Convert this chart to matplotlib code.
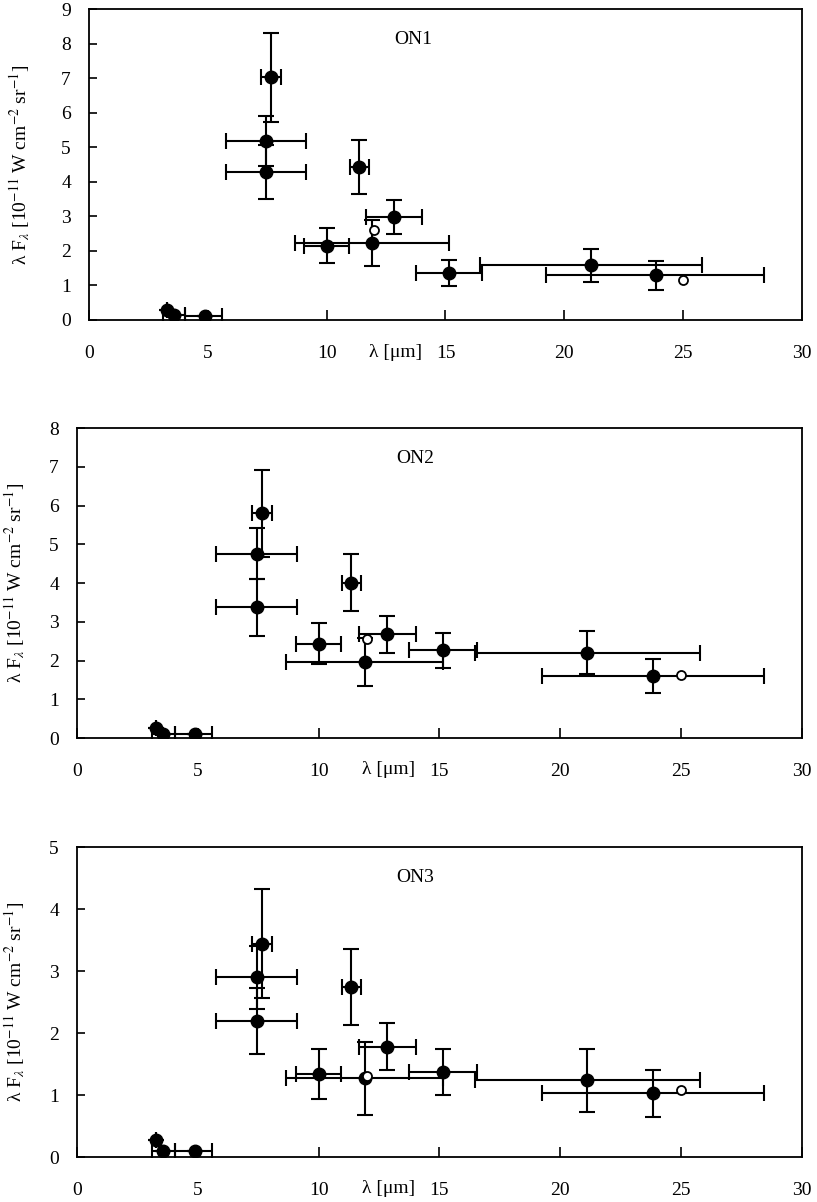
import numpy as np
import matplotlib
matplotlib.use("Agg")
import matplotlib.pyplot as plt

plt.rcParams["font.family"] = ["Liberation Serif", "DejaVu Serif"]
plt.rcParams["mathtext.fontset"] = "stix"

# band centres and x-extent (um), shared by the three positions
wl = np.array([3.28, 3.57, 4.88, 7.65, 7.43, 7.43, 10.0, 11.35, 11.92, 12.84, 15.16, 21.11, 23.84])
wl_lo = np.array([3.28, 3.10, 4.06, 7.25, 5.75, 5.75, 9.05, 10.97, 8.66, 11.67, 13.75, 16.45, 19.24])
wl_hi = np.array([3.28, 4.06, 5.60, 8.08, 9.12, 9.12, 10.93, 11.77, 15.13, 14.02, 16.55, 25.80, 28.42])

# open circles
wl_open = np.array([12.0, 25.0])

flux_on1 = [0.28, 0.13, 0.11, 7.02, 5.17, 4.28, 2.15, 4.43, 2.23, 2.98, 1.35, 1.58, 1.29]
err_on1 = [0, 0, 0, 1.28, 0.72, 0.78, 0.50, 0.78, 0.67, 0.50, 0.38, 0.48, 0.42]
open_on1 = [2.60, 1.16]

flux_on2 = [0.25, 0.11, 0.10, 5.80, 4.76, 3.37, 2.43, 4.01, 1.95, 2.68, 2.26, 2.20, 1.60]
err_on2 = [0, 0, 0, 1.12, 0.65, 0.73, 0.53, 0.73, 0.62, 0.48, 0.46, 0.55, 0.45]
open_on2 = [2.55, 1.63]

flux_on3 = [0.27, 0.10, 0.10, 3.44, 2.90, 2.19, 1.34, 2.74, 1.27, 1.78, 1.37, 1.24, 1.03]
err_on3 = [0, 0, 0, 0.88, 0.51, 0.53, 0.41, 0.61, 0.59, 0.38, 0.37, 0.51, 0.38]
open_on3 = [1.30, 1.08]

names = ["ON1", "ON2", "ON3"]
fluxes = [flux_on1, flux_on2, flux_on3]
errs = [err_on1, err_on2, err_on3]
opens = [open_on1, open_on2, open_on3]
ymax = [9, 8, 5]

# axes boxes in figure fraction [left, bottom, width, height]
boxes = [
    [0.1089, 0.7338, 0.8727, 0.2587],
    [0.0942, 0.3860, 0.8874, 0.2579],
    [0.0942, 0.0374, 0.8874, 0.2579],
]
ylab_x = [-0.080, -0.069, -0.069]
name_x = [0.455, 0.466, 0.466]

fig = plt.figure(figsize=(8.17, 12.02), dpi=100)

for i in range(3):
    ax = fig.add_axes(boxes[i])
    xerr = np.vstack([wl - wl_lo, wl_hi - wl])
    ax.errorbar(wl, fluxes[i], xerr=xerr, yerr=errs[i], fmt="o", color="black",
                ms=9, elinewidth=1.5, capsize=6, capthick=1.5, zorder=3)
    ax.plot(wl_open, opens[i], "o", mfc="white", mec="black", mew=1.3, ms=6.5, zorder=4)

    ax.set_xlim(0, 30)
    ax.set_ylim(0, ymax[i])
    ax.set_xticks(np.arange(0, 31, 5))
    ax.set_yticks(np.arange(0, ymax[i] + 1, 1))
    ax.tick_params(axis="x", direction="in", length=7, width=1.2, pad=18, labelsize=14)
    ax.tick_params(axis="y", direction="in", length=6, width=1.2, pad=13, labelsize=14)
    for sp in ax.spines.values():
        sp.set_linewidth(1.3)

    ax.set_ylabel(r"λ F$_{\lambda}$ [10$^{-11}$ W cm$^{-2}$ sr$^{-1}$]", fontsize=14)
    ax.yaxis.set_label_coords(ylab_x[i], 0.5)
    ax.text(0.43, -0.103, "λ [μm]", transform=ax.transAxes, ha="center", va="center",
            fontsize=14)
    ax.text(name_x[i], 0.903, names[i], transform=ax.transAxes, ha="center", va="center",
            fontsize=14)

fig.savefig("out.png", dpi=100)
